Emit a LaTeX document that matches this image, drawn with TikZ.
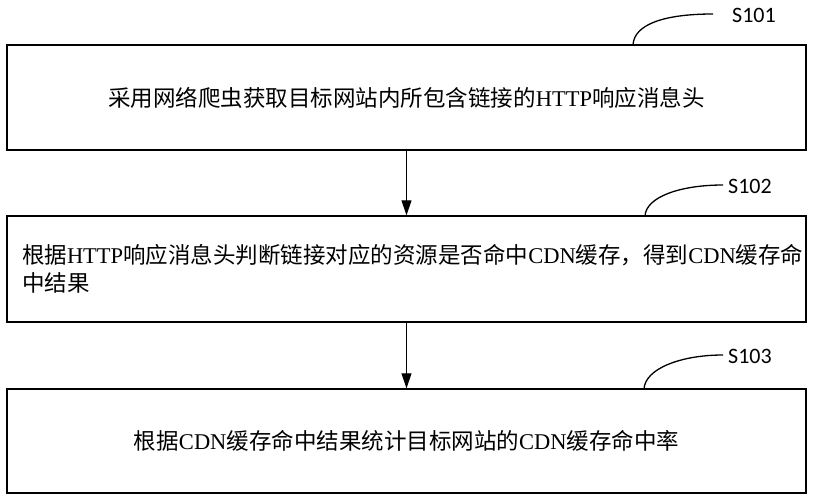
\documentclass[tikz,border=0pt]{standalone}
\usepackage{fontspec}
\setmainfont{Liberation Serif}
\newfontfamily\cjk{Noto Sans CJK SC}
\newfontfamily\labfont{Carlito}
\usetikzlibrary{arrows.meta}
\begin{document}
\begin{tikzpicture}[x=1pt,y=-1pt,
 box/.style={draw,line width=1.4pt,minimum width=799pt,inner sep=0pt,font=\fontsize{22.5}{28}\selectfont},
 flow/.style={line width=1pt,-{Triangle[width=10pt,length=15pt]}},
 lead/.style={line width=1.3pt},
 steplabel/.style={font=\labfont\fontsize{22}{26}\selectfont,anchor=west,inner sep=0pt}]
\useasboundingbox (0,0) rectangle (813,500);
\node[box,minimum height=105pt] (b1) at (406.5,97.5) {{\cjk 采用网络爬虫获取目标网站内所包含链接的}HTTP{\cjk 响应消息头}};
\node[box,minimum height=106pt,text width=769pt,align=left] (b2) at (406.5,269) {{\cjk 根据}HTTP{\cjk 响应消息头判断链接对应的资源是否命中}CDN{\cjk 缓存，得到}CDN{\cjk 缓存命}\\{\cjk 中结果}};
\node[box,minimum height=104pt] (b3) at (406.5,441) {{\cjk 根据}CDN{\cjk 缓存命中结果统计目标网站的}CDN{\cjk 缓存命中率}};
\draw[flow] (b1.south) -- (b2.north);
\draw[flow] (b2.south) -- (b3.north);
\node[steplabel] (l1) at (732,15) {S101};
\node[steplabel] (l2) at (728,186) {S102};
\node[steplabel] (l3) at (728,356) {S103};
\coordinate (c1) at (633,45);
\coordinate (e1) at (713,14);
\coordinate (c2) at (645,216);
\coordinate (e2) at (723,185);
\coordinate (c3) at (644,389);
\coordinate (e3) at (723,355);
\draw[lead] (c1) .. controls (634,24) and (665,14) .. (e1);
\draw[lead] (c2) .. controls (646,197) and (680,185) .. (e2);
\draw[lead] (c3) .. controls (645,369) and (680,355) .. (e3);
\end{tikzpicture}
\end{document}
